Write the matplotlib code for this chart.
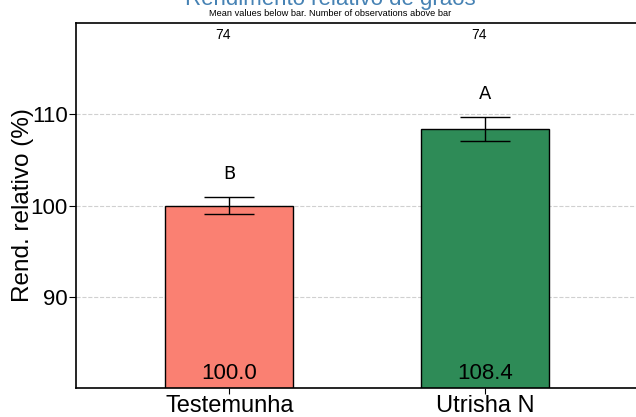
import matplotlib
matplotlib.use("Agg")
import matplotlib.pyplot as plt

# data
groups = ["Testemunha", "Utrisha N"]
means = [100.0, 108.4]
errs = [0.9, 1.35]
letters = ["B", "A"]
n_obs = [74, 74]
colors = ["#FA8072", "#2E8B57"]

plt.rcParams['font.family'] = ['Liberation Sans', 'DejaVu Sans']

fig = plt.figure(figsize=(6.36, 4.17), dpi=100)
ax = fig.add_axes([76 / 636, 29 / 417, 1 - 76 / 636, 365 / 417])

x = list(range(len(groups)))
ax.bar(x, means, width=0.5, color=colors, edgecolor="black", linewidth=1, zorder=2)
ax.errorbar(x, means, yerr=errs, fmt="none", ecolor="black", elinewidth=1,
            capsize=18, capthick=1, zorder=3)

for xi, m, e, lab, n in zip(x, means, errs, letters, n_obs):
    ax.text(xi, m + e + 2.5, lab, ha="center", va="center", fontsize=13,
            family="DejaVu Sans")
    ax.text(xi, 81.6, f"{m:.1f}", ha="center", va="center", fontsize=16)
    ax.text(xi - 0.025, 118.7, str(n), ha="center", va="center", fontsize=10)

ax.set_ylim(80, 120)
ax.set_xlim(-0.6, 1.59)
ax.set_yticks([90, 100, 110])
ax.set_xticks(x)
ax.set_xticklabels(groups, fontsize=17)
ax.tick_params(axis="y", labelsize=16, length=5, pad=1)
ax.tick_params(axis="x", length=4, pad=1)
ax.set_ylabel("Rend. relativo (%)", fontsize=17.5)
ax.yaxis.set_label_coords(-(76 - 34) / 560, 0.5)
ax.yaxis.grid(True, linestyle="--", color="#d0d0d0", linewidth=0.8, zorder=0)
ax.set_axisbelow(True)

ax.spines["right"].set_visible(False)
for s in ["left", "top", "bottom"]:
    ax.spines[s].set_color("black")
    ax.spines[s].set_linewidth(1.2)

fig.text(330 / 636, 1 + 1 / 417, "Rendimento relativo de grãos", ha="center", va="center",
         fontsize=16, color="#4682B4")
fig.text(330 / 636, 1 - 13 / 417, "Mean values below bar. Number of observations above bar",
         ha="center", va="center", fontsize=6.7)

fig.savefig("out.png", dpi=100)
